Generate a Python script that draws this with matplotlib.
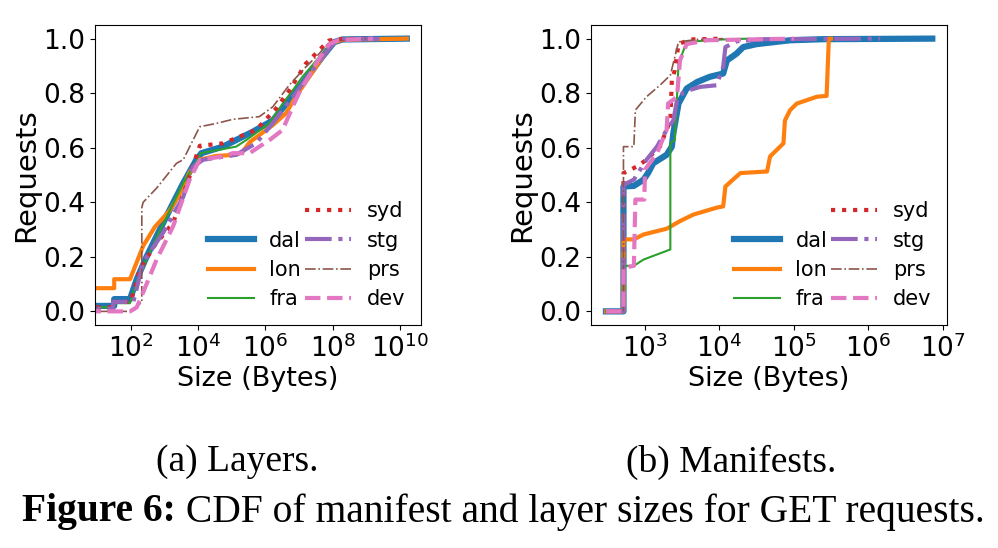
import matplotlib
matplotlib.use("Agg")
import matplotlib.pyplot as plt
from matplotlib.lines import Line2D
import numpy as np

# ---------------- data (log10 of size in bytes, CDF) ----------------
series = ["dal", "lon", "fra", "syd", "stg", "prs", "dev"]

# Layers
lay_dal_x = [0, 1.51, 1.51, 1.98, 2.18, 2.47, 2.77, 3.16, 3.56, 3.95, 4.10, 4.74, 5.63, 6.22, 6.71, 7.10, 7.69, 8.04, 8.29, 10.20]
lay_dal_y = [0.02, 0.02, 0.045, 0.045, 0.118, 0.20, 0.276, 0.373, 0.47, 0.556, 0.58, 0.604, 0.659, 0.70, 0.775, 0.835, 0.933, 0.987, 0.997, 1.0]
lay_lon_x = [0, 1.51, 1.51, 1.98, 2.37, 2.72, 3.16, 3.41, 3.75, 4.05, 4.54, 5.13, 5.33, 5.53, 6.22, 6.61, 6.90, 7.50, 7.99, 8.29, 10.20]
lay_lon_y = [0.085, 0.085, 0.118, 0.118, 0.24, 0.31, 0.37, 0.42, 0.51, 0.556, 0.57, 0.574, 0.586, 0.62, 0.683, 0.726, 0.787, 0.896, 0.984, 0.996, 1.0]
lay_fra_x = [0, 1.51, 1.51, 1.98, 2.18, 2.47, 2.77, 3.16, 3.56, 3.95, 4.08, 5.13, 5.43, 6.12, 6.52, 6.81, 7.10, 7.69, 8.06, 8.30, 9.00]
lay_fra_y = [0.015, 0.015, 0.03, 0.03, 0.11, 0.19, 0.27, 0.37, 0.47, 0.55, 0.58, 0.604, 0.628, 0.69, 0.763, 0.81, 0.86, 0.945, 0.99, 0.997, 1.0]
lay_syd_x = [0, 1.51, 1.51, 2.00, 2.28, 2.70, 3.26, 3.75, 4.05, 4.74, 5.72, 6.32, 6.71, 7.20, 7.69, 7.89, 8.20, 9.00]
lay_syd_y = [0.015, 0.015, 0.035, 0.035, 0.155, 0.24, 0.325, 0.495, 0.607, 0.616, 0.665, 0.744, 0.81, 0.908, 0.969, 0.993, 0.998, 1.0]
lay_stg_x = [0, 1.48, 1.48, 2.08, 2.37, 2.97, 3.56, 3.85, 4.15, 5.13, 5.72, 6.22, 6.90, 7.69, 8.08, 8.30, 9.55]
lay_stg_y = [0.01, 0.01, 0.035, 0.035, 0.18, 0.29, 0.42, 0.53, 0.556, 0.574, 0.616, 0.69, 0.80, 0.933, 0.99, 0.997, 1.0]
lay_prs_x = [0, 2.08, 2.18, 2.33, 2.33, 2.37, 2.77, 3.36, 3.56, 4.05, 4.54, 5.03, 5.82, 6.22, 6.71, 7.20, 7.60, 7.84, 8.08, 9.00]
lay_prs_y = [0.0, 0.0, 0.02, 0.033, 0.38, 0.40, 0.452, 0.543, 0.556, 0.677, 0.689, 0.704, 0.714, 0.75, 0.83, 0.896, 0.945, 0.98, 0.99, 1.0]
lay_dev_x = [0, 1.98, 2.18, 2.37, 2.77, 3.26, 3.75, 4.05, 4.74, 5.03, 5.53, 5.82, 6.12, 6.51, 6.81, 7.00, 7.50, 7.89, 8.18, 9.20]
lay_dev_y = [0.0, 0.0, 0.015, 0.07, 0.19, 0.312, 0.483, 0.556, 0.568, 0.58, 0.58, 0.604, 0.628, 0.665, 0.75, 0.80, 0.908, 0.98, 0.995, 1.0]

# Manifests
man_dal_x = [2.475, 2.71, 2.71, 2.85, 2.98, 3.04, 3.11, 3.29, 3.36, 3.38, 3.45, 3.56, 3.70, 3.87, 4.05, 4.10, 4.23, 4.32, 4.50, 4.95, 5.40, 6.86]
man_dal_y = [0.0, 0.0, 0.458, 0.46, 0.483, 0.507, 0.543, 0.574, 0.604, 0.653, 0.762, 0.817, 0.841, 0.86, 0.872, 0.92, 0.945, 0.969, 0.98, 0.994, 0.998, 1.0]
man_lon_x = [2.475, 2.71, 2.71, 2.85, 2.98, 3.29, 3.47, 3.65, 3.96, 4.05, 4.08, 4.28, 4.64, 4.68, 4.77, 4.86, 4.88, 4.95, 5.04, 5.31, 5.44, 5.47, 5.50]
man_lon_y = [0.0, 0.0, 0.264, 0.264, 0.282, 0.303, 0.331, 0.355, 0.38, 0.385, 0.458, 0.507, 0.513, 0.568, 0.592, 0.616, 0.70, 0.738, 0.762, 0.787, 0.79, 1.0, 1.0]
man_fra_x = [2.475, 2.71, 2.71, 2.85, 2.98, 3.34, 3.34, 3.40, 3.43, 3.45, 3.56, 4.05, 4.40]
man_fra_y = [0.0, 0.0, 0.167, 0.167, 0.19, 0.227, 0.616, 0.629, 0.787, 0.908, 0.988, 0.997, 1.0]
man_syd_x = [2.475, 2.71, 2.71, 2.89, 3.02, 3.20, 3.34, 3.36, 3.40, 3.45, 3.61, 4.05]
man_syd_y = [0.0, 0.0, 0.507, 0.531, 0.556, 0.604, 0.70, 0.847, 0.884, 0.98, 0.997, 1.0]
man_stg_x = [2.475, 2.71, 2.71, 2.85, 3.02, 3.16, 3.29, 3.38, 3.43, 3.52, 3.74, 3.96, 4.05, 4.08, 4.23, 4.60, 6.16]
man_stg_y = [0.0, 0.0, 0.464, 0.483, 0.556, 0.604, 0.665, 0.70, 0.775, 0.805, 0.823, 0.829, 0.896, 0.969, 0.99, 0.998, 1.0]
man_prs_x = [2.475, 2.71, 2.71, 2.85, 2.87, 3.02, 3.20, 3.34, 3.45, 3.70, 4.05]
man_prs_y = [0.0, 0.0, 0.604, 0.604, 0.738, 0.787, 0.829, 0.866, 0.988, 0.997, 1.0]
man_dev_x = [2.475, 2.71, 2.71, 2.85, 2.87, 2.99, 3.00, 3.16, 3.29, 3.31, 3.43, 3.47, 3.56, 3.83, 5.00]
man_dev_y = [0.0, 0.0, 0.16, 0.167, 0.41, 0.41, 0.52, 0.58, 0.665, 0.762, 0.787, 0.92, 0.98, 0.994, 1.0]

colors = {"dal": "#1f77b4", "lon": "#ff7f0e", "fra": "#2ca02c", "syd": "#d62728",
          "stg": "#9467bd", "prs": "#8c564b", "dev": "#e377c2"}
styles = {"dal": dict(ls="-", lw=4.5), "lon": dict(ls="-", lw=3.0), "fra": dict(ls="-", lw=1.5),
          "syd": dict(ls=":", lw=3.0), "stg": dict(ls="-.", lw=3.0), "prs": dict(ls="-.", lw=1.2),
          "dev": dict(ls="--", lw=3.0)}

layers = {"dal": (lay_dal_x, lay_dal_y), "lon": (lay_lon_x, lay_lon_y), "fra": (lay_fra_x, lay_fra_y),
          "syd": (lay_syd_x, lay_syd_y), "stg": (lay_stg_x, lay_stg_y), "prs": (lay_prs_x, lay_prs_y),
          "dev": (lay_dev_x, lay_dev_y)}
manifests = {"dal": (man_dal_x, man_dal_y), "lon": (man_lon_x, man_lon_y), "fra": (man_fra_x, man_fra_y),
             "syd": (man_syd_x, man_syd_y), "stg": (man_stg_x, man_stg_y), "prs": (man_prs_x, man_prs_y),
             "dev": (man_dev_x, man_dev_y)}

plt.rcParams["font.family"] = ["DejaVu Sans"]

W, H = 998, 548
fig = plt.figure(figsize=(W / 100, H / 100), dpi=100)
ax1 = fig.add_axes([0.0952, 0.4069, 0.4218 - 0.0952, 0.9544 - 0.4069])
ax2 = fig.add_axes([0.5922, 0.4069, 0.9489 - 0.5922, 0.9544 - 0.4069])

def draw(ax, data, xlim, xticks):
    handles = []
    for name in series:
        lx, ly = data[name]
        h, = ax.plot(10 ** np.asarray(lx), ly, color=colors[name], label=name, **styles[name])
        handles.append(h)
    ax.set_xscale("log")
    ax.set_xlim(10 ** xlim[0], 10 ** xlim[1])
    ax.set_ylim(-0.05, 1.05)
    ax.set_xticks([10.0 ** e for e in xticks])
    ax.set_xticklabels([r"$10^{%d}$" % e for e in xticks])
    ax.minorticks_off()
    ax.set_yticks([0.0, 0.2, 0.4, 0.6, 0.8, 1.0])
    ax.set_yticklabels(["0.0", "0.2", "0.4", "0.6", "0.8", "1.0"])
    ax.tick_params(labelsize=19)
    ax.set_xlabel("Size (Bytes)", fontsize=19.5, labelpad=2)
    ax.set_ylabel("Requests", fontsize=21, labelpad=2)
    blank = Line2D([], [], linestyle="none")
    order = [blank] + handles
    labels = [""] + series
    ax.legend(order, labels, loc="lower right", ncol=2, frameon=False, fontsize=15,
              handlelength=2.2, handletextpad=0.75, columnspacing=0.2, labelspacing=0.45,
              borderaxespad=0.35)

draw(ax1, layers, (0.94, 10.62), [2, 4, 6, 8, 10])
draw(ax2, manifests, (2.274, 7.058), [3, 4, 5, 6, 7])

fig.text(237 / W, 1 - 462 / H, "(a) Layers.", ha="center", va="center", fontsize=27, family="Liberation Serif")
fig.text(731 / W, 1 - 462 / H, "(b) Manifests.", ha="center", va="center", fontsize=27, family="Liberation Serif")

# caption: bold serif "Figure 6:" followed by regular serif text
renderer = fig.canvas.get_renderer()
fs = 28
t_bold = fig.text(0, 1 - 512 / H, "Figure 6:", ha="left", va="center", fontsize=fs,
                  family="Liberation Serif", weight="bold")
t_rest = fig.text(0, 1 - 512 / H, " CDF of manifest and layer sizes for GET requests.", ha="left",
                  va="center", fontsize=fs, family="Liberation Serif")
wb = t_bold.get_window_extent(renderer).width
wr = t_rest.get_window_extent(renderer).width
scale = 963.0 / (wb + wr)
fs2 = fs * scale
t_bold.set_fontsize(fs2)
t_rest.set_fontsize(fs2)
wb = t_bold.get_window_extent(renderer).width
wr = t_rest.get_window_extent(renderer).width
x0 = 503.5 - (wb + wr) / 2
t_bold.set_x(x0 / W)
t_rest.set_x((x0 + wb) / W)

fig.savefig("out.png", dpi=100)
